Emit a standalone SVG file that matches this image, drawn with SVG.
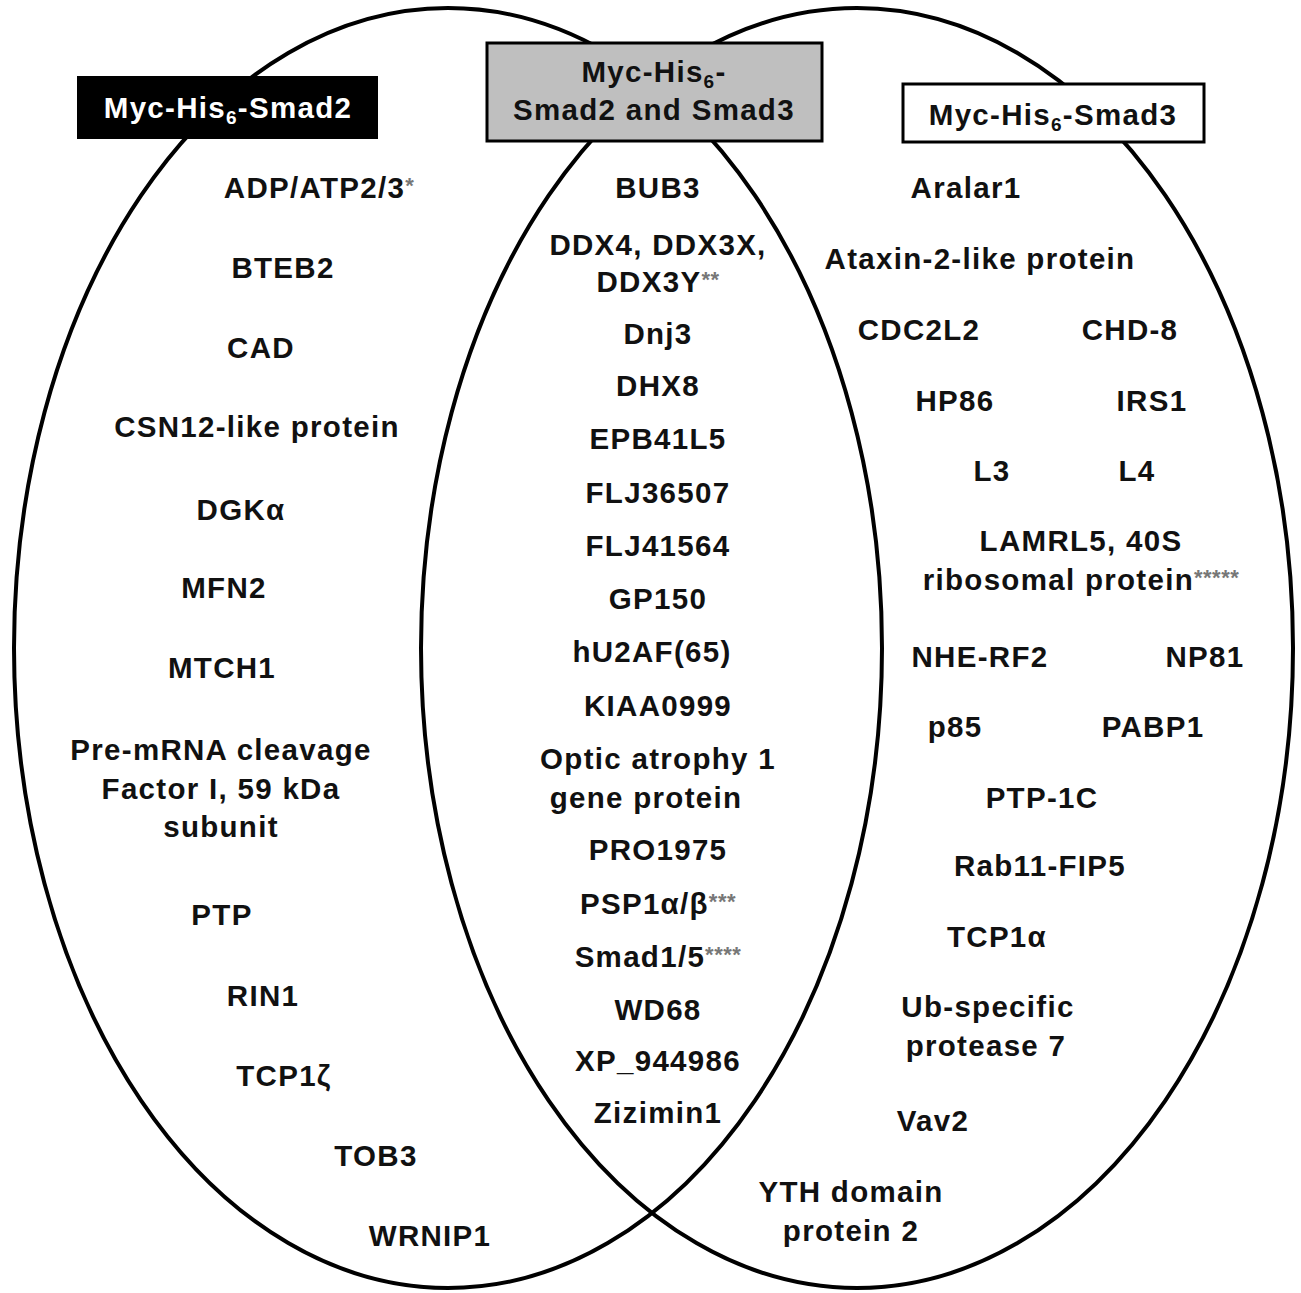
<svg xmlns="http://www.w3.org/2000/svg" width="1301" height="1293" viewBox="0 0 1301 1293">
<style>
text{font-family:"Liberation Sans",Arial,sans-serif;font-weight:bold;font-size:29.5px;letter-spacing:1.3px;text-anchor:middle;fill:#111}
.ast{font-size:22px;fill:#777;letter-spacing:0.5px}
.sub{font-size:19px}
.set{fill:none;stroke:#000;stroke-width:4}
.wt{fill:#fff}
</style>
<rect width="1301" height="1293" fill="#fff"/>
<g id="ellipses">
<ellipse id="set-smad2" class="set" cx="448" cy="648" rx="434" ry="640"/>
<ellipse id="set-smad3" class="set" cx="857" cy="648" rx="436" ry="640"/>
</g>
<g id="header-smad2">
<rect x="77" y="76" width="301" height="63" fill="#000"/>
<text class="wt" x="228" y="118">Myc-His<tspan class="sub" dy="6">6</tspan><tspan dy="-6">-Smad2</tspan></text>
</g>
<g id="header-both">
<rect x="487" y="43" width="335" height="98" fill="#bfbfbf" stroke="#000" stroke-width="3"/>
<text x="654" y="82">Myc-His<tspan class="sub" dy="6">6</tspan><tspan dy="-6">-</tspan></text>
<text x="654" y="120">Smad2 and Smad3</text>
</g>
<g id="header-smad3">
<rect x="903" y="84" width="301" height="58" fill="#fff" stroke="#000" stroke-width="3"/>
<text x="1053" y="125">Myc-His<tspan class="sub" dy="6">6</tspan><tspan dy="-6">-Smad3</tspan></text>
</g>
<g id="smad2-only">
<text x="319" y="198">ADP/ATP2/3<tspan class="ast" dy="-5">*</tspan></text>
<text x="283" y="278">BTEB2</text>
<text x="261" y="358">CAD</text>
<text x="257" y="437">CSN12-like protein</text>
<text x="241" y="520">DGKα</text>
<text x="224" y="598">MFN2</text>
<text x="222" y="678">MTCH1</text>
<text x="221" y="760">Pre-mRNA cleavage</text>
<text x="221" y="799">Factor I, 59 kDa</text>
<text x="221" y="837">subunit</text>
<text x="222" y="925">PTP</text>
<text x="263" y="1006">RIN1</text>
<text x="284" y="1086">TCP1ζ</text>
<text x="376" y="1166">TOB3</text>
<text x="430" y="1246">WRNIP1</text>
</g>
<g id="both">
<text x="658" y="198">BUB3</text>
<text x="658" y="255">DDX4, DDX3X,</text>
<text x="658" y="292">DDX3Y<tspan class="ast" dy="-5">**</tspan></text>
<text x="658" y="344">Dnj3</text>
<text x="658" y="396">DHX8</text>
<text x="658" y="449">EPB41L5</text>
<text x="658" y="503">FLJ36507</text>
<text x="658" y="556">FLJ41564</text>
<text x="658" y="609">GP150</text>
<text x="652" y="662">hU2AF(65)</text>
<text x="658" y="716">KIAA0999</text>
<text x="658" y="769">Optic atrophy 1</text>
<text x="646" y="808">gene protein</text>
<text x="658" y="860">PRO1975</text>
<text x="658" y="914">PSP1α/β<tspan class="ast" dy="-5">***</tspan></text>
<text x="658" y="967">Smad1/5<tspan class="ast" dy="-5">****</tspan></text>
<text x="658" y="1020">WD68</text>
<text x="658" y="1071">XP_944986</text>
<text x="658" y="1123">Zizimin1</text>
</g>
<g id="smad3-only">
<text x="966" y="198">Aralar1</text>
<text x="980" y="269">Ataxin-2-like protein</text>
<text x="919" y="340">CDC2L2</text>
<text x="1130" y="340">CHD-8</text>
<text x="955" y="411">HP86</text>
<text x="1152" y="411">IRS1</text>
<text x="992" y="481">L3</text>
<text x="1137" y="481">L4</text>
<text x="1081" y="551">LAMRL5, 40S</text>
<text x="1081" y="590">ribosomal protein<tspan class="ast" dy="-5">*****</tspan></text>
<text x="980" y="667">NHE-RF2</text>
<text x="1205" y="667">NP81</text>
<text x="955" y="737">p85</text>
<text x="1153" y="737">PABP1</text>
<text x="1042" y="808">PTP-1C</text>
<text x="1040" y="876">Rab11-FIP5</text>
<text x="997" y="947">TCP1α</text>
<text x="988" y="1017">Ub-specific</text>
<text x="986" y="1056">protease 7</text>
<text x="933" y="1131">Vav2</text>
<text x="851" y="1202">YTH domain</text>
<text x="851" y="1241">protein 2</text>
</g>
</svg>
